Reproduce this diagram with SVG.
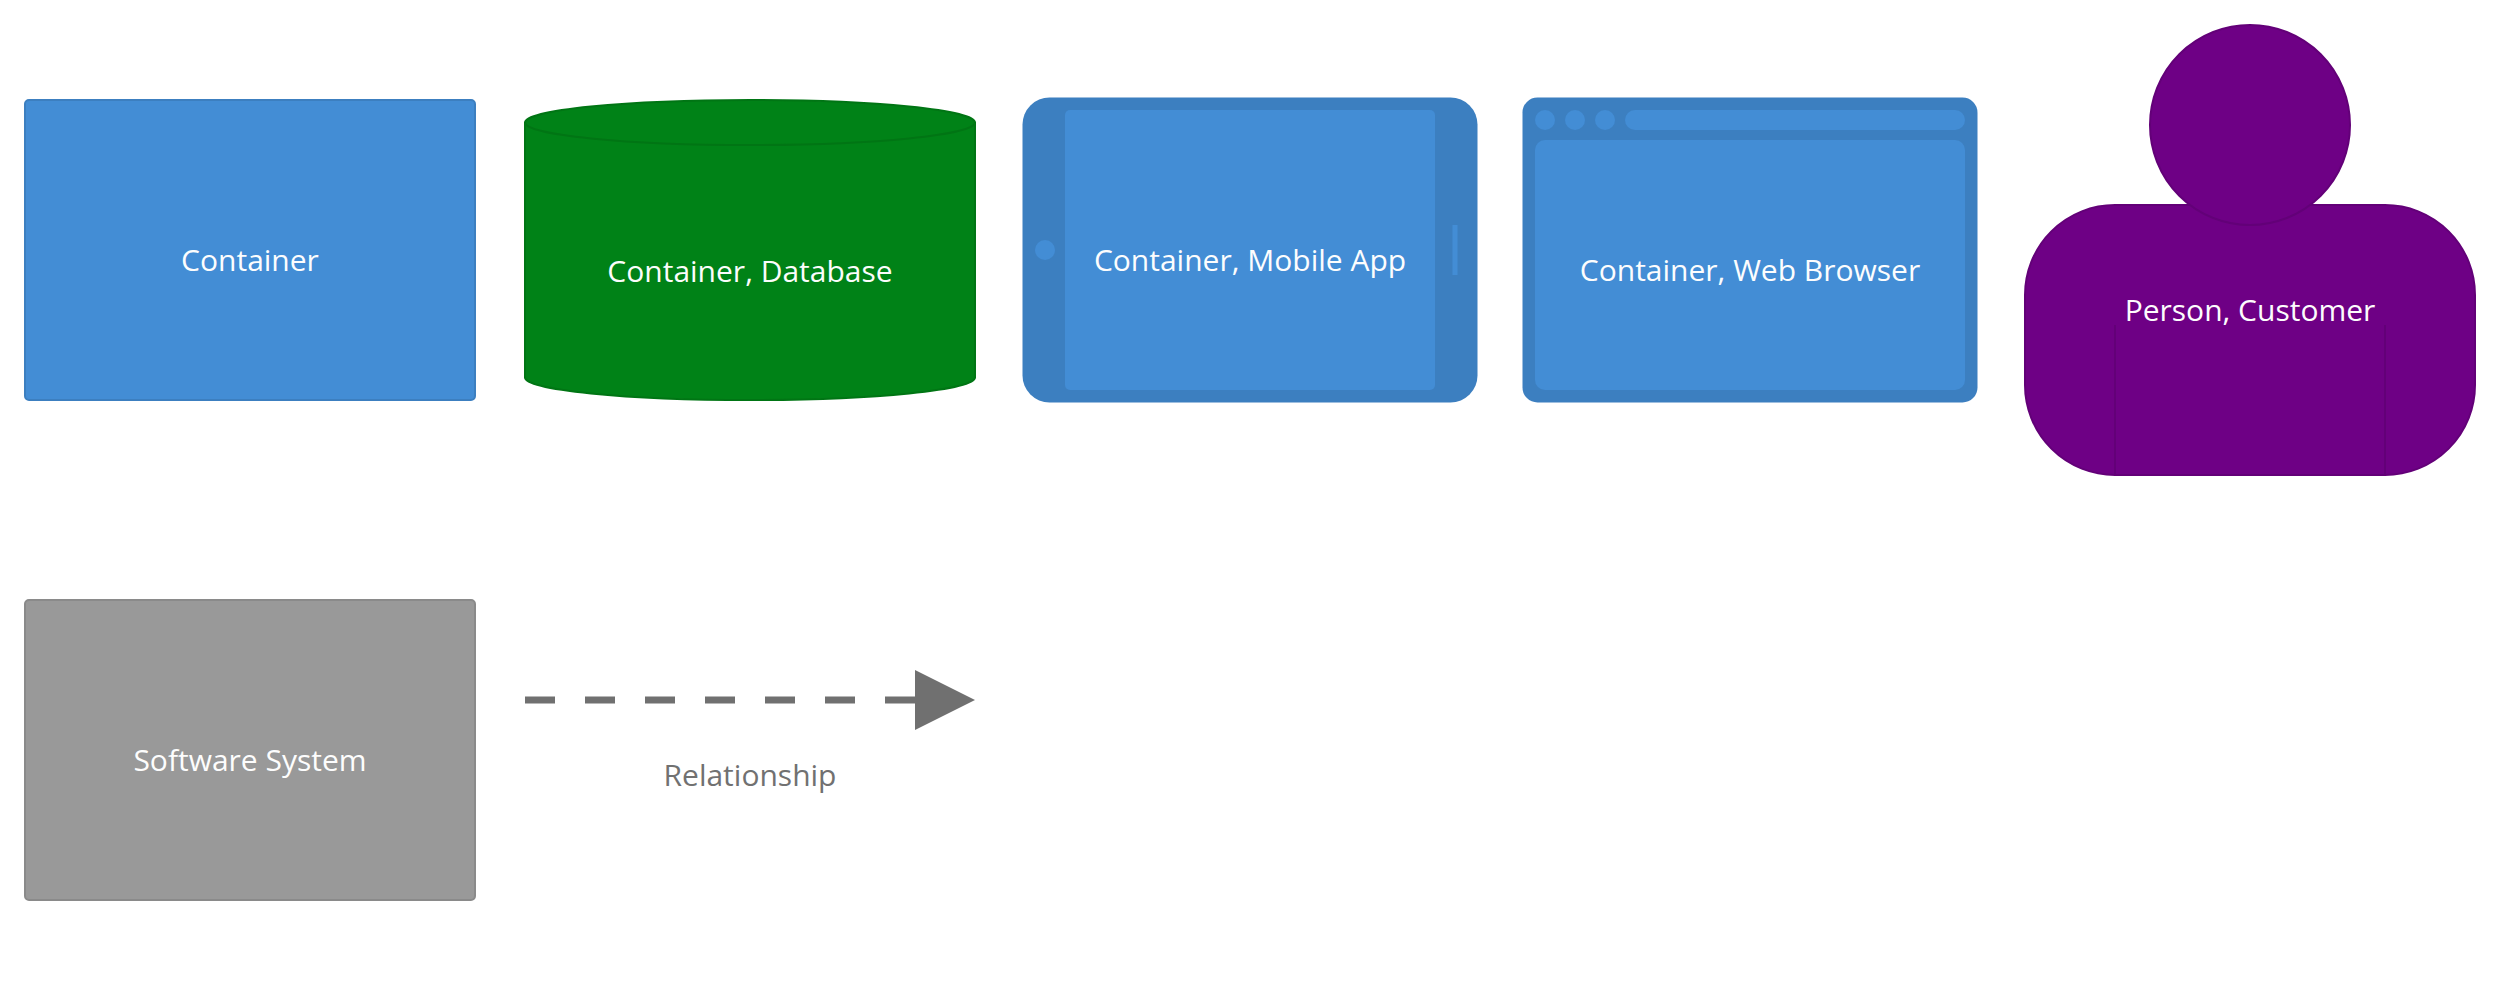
<svg xmlns="http://www.w3.org/2000/svg" width="2500" height="1000" viewBox="0 0 2500 1000">
<style>
text{font-family:"Open Sans","Noto Sans","Liberation Sans",sans-serif;font-size:30px;fill:#fff;text-anchor:middle;opacity:.99}
.blue{fill:#438dd5}
.dark{fill:#3c7fc0}
.green{fill:#008217;stroke:#007514;stroke-width:2}
.purple{fill:#6e0085;stroke:#630078;stroke-width:2}
</style>
<defs>
<marker id="arrow" markerUnits="userSpaceOnUse" markerWidth="60" markerHeight="60" refX="0" refY="30" orient="auto"><path d="M0 0L60 30L0 60Z" fill="#707070"/></marker>
</defs>
<rect width="2500" height="1000" fill="#fff"/>
<g id="container">
<rect x="25" y="100" width="450" height="300" rx="4" class="blue" stroke="#3c7fc0" stroke-width="2"/>
<text x="250" y="271">Container</text>
</g>
<g id="database">
<path d="M525 122.500A225 22.500 0 0 1 975 122.500V377.500A225 22.500 0 0 1 525 377.500Z" class="green"/>
<path d="M525 122.500A225 22.500 0 0 0 975 122.500" fill="none" stroke="#007514" stroke-width="2"/>
<text x="750" y="282">Container, Database</text>
</g>
<g id="mobile">
<rect x="1022.500" y="97.500" width="455" height="305" rx="27" class="dark"/>
<rect x="1065" y="110" width="370" height="280" rx="5" class="blue"/>
<circle cx="1045" cy="250" r="10" class="blue"/>
<rect x="1452.500" y="225" width="5" height="50" class="blue"/>
<text x="1250" y="271">Container, Mobile App</text>
</g>
<g id="browser">
<rect x="1522.500" y="97.500" width="455" height="305" rx="15" class="dark"/>
<circle cx="1545" cy="120" r="10" class="blue"/>
<circle cx="1575" cy="120" r="10" class="blue"/>
<circle cx="1605" cy="120" r="10" class="blue"/>
<rect x="1625" y="110" width="340" height="20" rx="10" class="blue"/>
<rect x="1535" y="140" width="430" height="250" rx="10" class="blue"/>
<text x="1750" y="281">Container, Web Browser</text>
</g>
<g id="person">
<rect x="2025" y="205" width="450" height="270" rx="90" class="purple"/>
<circle cx="2250" cy="125" r="100" class="purple"/>
<path d="M2115 475V325M2385 325V475M2115 475H2385" fill="none" stroke="#630078" stroke-width="2"/>
<text x="2250" y="321">Person, Customer</text>
</g>
<g id="software-system">
<rect x="25" y="600" width="450" height="300" rx="4" fill="#999" stroke="#8a8a8a" stroke-width="2"/>
<text x="250" y="771">Software System</text>
</g>
<g id="connectors">
<line x1="525" y1="700" x2="915" y2="700" stroke="#707070" stroke-width="7" stroke-dasharray="30 30" marker-end="url(#arrow)"/>
<text x="750" y="786" style="fill:#707070">Relationship</text>
</g>
</svg>
